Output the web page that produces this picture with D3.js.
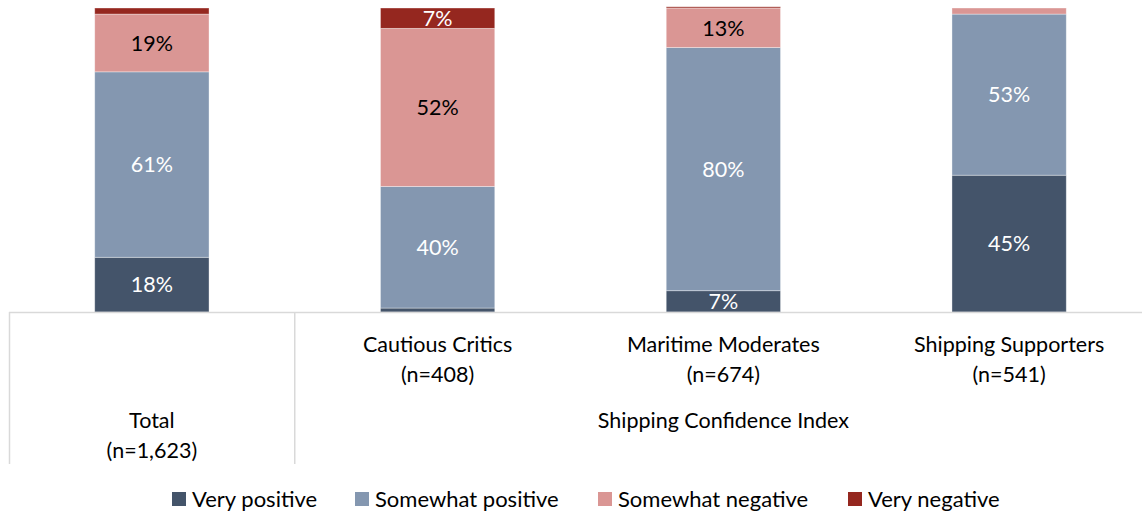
<!DOCTYPE html>
<html><head><meta charset="utf-8">
<script src="https://cdn.jsdelivr.net/npm/d3@7"></script>
<style>body{margin:0;background:#fff}svg{display:block}</style>
</head><body>
<svg id="c" width="1142" height="515"></svg>
<script>
const categories = ["Total", "Cautious Critics", "Maritime Moderates", "Shipping Supporters"];
const sampleSizes = ["(n=1,623)", "(n=408)", "(n=674)", "(n=541)"];
const groupTitle = "Shipping Confidence Index";
const seriesNames = ["Very positive", "Somewhat positive", "Somewhat negative", "Very negative"];
const veryPositive = [18, 1.3, 7, 45];
const somewhatPositive = [61, 40, 80, 53];
const somewhatNegative = [19, 52, 13, 2];
const veryNegative = [2, 6.7, 0.4, 0];
const colors = ["#44546a", "#8497b0", "#da9694", "#95271f"];
const labelColors = ["#ffffff", "#ffffff", "#000000", "#ffffff"];

const seriesValues = [veryPositive, somewhatPositive, somewhatNegative, veryNegative];
const rows = categories.map((c, i) => {
  const r = {cat: c};
  seriesNames.forEach((s, k) => r[s] = seriesValues[k][i]);
  return r;
});
const stacked = d3.stack().keys(seriesNames)(rows);

const svg = d3.select("#c");
const font = "Lato, 'Open Sans', sans-serif";
const fs = 21.5;
const x = d3.scaleBand().domain(categories).range([9, 1152]).paddingInner(0.6).paddingOuter(0.3);
const y = d3.scaleLinear().domain([0, 100]).range([312, 8]);

const g = svg.append("g");
stacked.forEach((layer, k) => {
  g.selectAll(null).data(layer).enter().append("rect")
    .attr("x", d => x(d.data.cat))
    .attr("width", x.bandwidth())
    .attr("y", d => y(d[1]))
    .attr("height", d => Math.max(0, y(d[0]) - y(d[1])))
    .attr("fill", colors[k])
    .attr("stroke", "rgba(255,255,255,0.45)")
    .attr("stroke-width", 0.8);
  g.selectAll(null).data(layer.filter(d => d[1] - d[0] >= 5)).enter().append("text")
    .attr("x", d => x(d.data.cat) + x.bandwidth() / 2)
    .attr("y", d => (y(d[0]) + y(d[1])) / 2)
    .attr("dy", "0.36em")
    .attr("text-anchor", "middle")
    .attr("font-family", font)
    .attr("font-size", fs)
    .attr("fill", labelColors[k])
    .text(d => Math.round(d[1] - d[0]) + "%");
});

// axis / table lines
const step = x.step();
const axisG = svg.append("g").attr("stroke", "#d9d9d9").attr("stroke-width", 1.5);
axisG.append("line").attr("x1", 9).attr("x2", 1142).attr("y1", 312.5).attr("y2", 312.5);
axisG.append("line").attr("x1", 9.5).attr("x2", 9.5).attr("y1", 312).attr("y2", 464);
axisG.append("line").attr("x1", 9 + step).attr("x2", 9 + step).attr("y1", 312).attr("y2", 464);

// category labels
const labG = svg.append("g").attr("font-family", font).attr("font-size", fs).attr("fill", "#000").attr("text-anchor", "middle");
categories.forEach((c, i) => {
  const cx = x(c) + x.bandwidth() / 2;
  const y0 = i === 0 ? 420 : 344;
  labG.append("text").attr("x", cx).attr("y", y0).attr("dy", "0.36em").text(c);
  labG.append("text").attr("x", cx).attr("y", y0 + 30).attr("dy", "0.36em").text(sampleSizes[i]);
});
labG.append("text").attr("x", (9 + step + 1152) / 2).attr("y", 420).attr("dy", "0.36em").text(groupTitle);

// legend
const legendX = [172, 355, 598, 848];
const lg = svg.append("g").attr("font-family", font).attr("font-size", 22);
seriesNames.forEach((s, k) => {
  lg.append("rect").attr("x", legendX[k]).attr("y", 492).attr("width", 14).attr("height", 14).attr("fill", colors[k]);
  lg.append("text").attr("x", legendX[k] + 20).attr("y", 499).attr("dy", "0.36em").attr("fill", "#000").text(s);
});
</script>
</body></html>
